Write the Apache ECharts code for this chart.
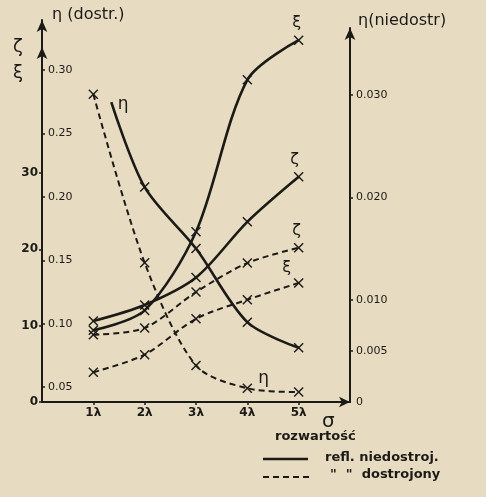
<!DOCTYPE html>
<html>
<head>
<meta charset="utf-8">
<script src="https://cdn.jsdelivr.net/npm/echarts@6/dist/echarts.min.js"></script>
<style>
html,body{margin:0;padding:0;background:#e7dcc1;}
#chart{width:486px;height:497px;}
</style>
</head>
<body>
<div id="chart"></div>
<script>
// ---- data ----
const xValues = [1, 2, 3, 4, 5];
const xTickLabels = ['1λ', '2λ', '3λ', '4λ', '5λ'];
const zetaSolid = [10.6, 12.7, 16.3, 23.6, 29.5];   // ζ, refl. niedostroj.
const xiSolid = [9.4, 12.0, 22.3, 42.2, 47.4];      // ξ, refl. niedostroj.
const zetaDashed = [8.8, 9.7, 14.4, 18.2, 20.2];    // ζ, dostrojony
const xiDashed = [3.9, 6.2, 10.9, 13.4, 15.6];      // ξ, dostrojony
const etaDashed = [0.281, 0.148, 0.067, 0.049, 0.046]; // η (dostr.)
const etaSolidX = [1.35, 2, 3, 4, 5];
const etaSolid = [0.0293, 0.0210, 0.0150, 0.0078, 0.0053]; // η (niedostr.)
const zxTicks = [0, 10, 20, 30];
const etaDostrTicks = [0.05, 0.10, 0.15, 0.20, 0.25, 0.30];
const etaNiedTicks = [0, 0.005, 0.010, 0.020, 0.030];

const INK = '#1c1a17';
const FONT = 'DejaVu Sans';
const CROSS = 'path://M0,1 L1,0 L5,4 L9,0 L10,1 L6,5 L10,9 L9,10 L5,6 L1,10 L0,9 L4,5 Z';

const chart = echarts.init(document.getElementById('chart'));

function pts(xs, ys) { return xs.map((x, i) => [x, ys[i]]); }
function lastLabel(data, text, offset) {
  const d = data.slice();
  const n = d.length - 1;
  d[n] = { value: d[n], label: { show: true, formatter: text, position: 'top', distance: 4, offset: offset || [0, 0], fontSize: 16, fontFamily: FONT, color: INK } };
  return d;
}

const solidStyle = { color: INK, width: 2.6 };
const dashStyle = { color: INK, width: 2, type: [6, 4] };
const base = { type: 'line', smooth: 0.3, symbol: CROSS, symbolSize: 10, itemStyle: { color: INK }, clip: false, z: 3 };

let etaSolidData = pts(etaSolidX, etaSolid);
etaSolidData[0] = { value: etaSolidData[0], symbol: 'circle', symbolSize: 1, itemStyle: { color: 'rgba(0,0,0,0)' },
  label: { show: true, formatter: 'η', position: 'right', distance: 6, offset: [0, 2], fontSize: 17, fontFamily: FONT, color: INK } };

let etaDashedData = pts(xValues, etaDashed);
etaDashedData[3] = { value: etaDashedData[3], label: { show: true, formatter: 'η', position: 'right', distance: 6, offset: [0, -10], fontSize: 17, fontFamily: FONT, color: INK } };

const axisLineStyle = { color: INK, width: 2 };

chart.setOption({
  backgroundColor: '#e7dcc1',
  animation: false,
  textStyle: { fontFamily: FONT, color: INK },
  grid: [
    { left: 42, right: 136, bottom: 95, top: 47 },
    { left: 42, right: 136, bottom: 95, top: 20 },
    { left: 42, right: 136, bottom: 95, top: 28 }
  ],
  xAxis: [
    { gridIndex: 0, type: 'value', min: 0, max: 6,
      axisLine: { show: true, onZero: false, lineStyle: axisLineStyle, symbol: ['none', 'arrow'], symbolSize: [8, 11] },
      axisTick: { show: true, customValues: xValues, length: 3, lineStyle: { color: INK, width: 1.5 } },
      axisLabel: { customValues: xValues, formatter: v => xTickLabels[xValues.indexOf(v)], fontSize: 12, fontWeight: 'bold', color: INK, margin: 5 },
      splitLine: { show: false } },
    { gridIndex: 1, type: 'value', min: 0, max: 6, show: false },
    { gridIndex: 2, type: 'value', min: 0, max: 6, show: false }
  ],
  yAxis: [
    { gridIndex: 0, type: 'value', min: 0, max: 46.5, position: 'left',
      axisLine: { show: true, onZero: false, lineStyle: axisLineStyle, symbol: ['none', 'arrow'], symbolSize: [8, 12] },
      axisTick: { show: true, customValues: zxTicks, length: 3, lineStyle: { color: INK, width: 1.5 } },
      axisLabel: { customValues: zxTicks, fontSize: 12, fontWeight: 'bold', color: INK, margin: 4 },
      splitLine: { show: false } },
    { gridIndex: 1, type: 'value', min: 0.0382, max: 0.3395, position: 'left',
      axisLine: { show: true, onZero: false, lineStyle: axisLineStyle, symbol: ['none', 'arrow'], symbolSize: [8, 12] },
      axisTick: { show: true, inside: true, customValues: etaDostrTicks, length: 3, lineStyle: { color: INK, width: 1.5 } },
      axisLabel: { inside: true, customValues: etaDostrTicks, formatter: v => v.toFixed(2), fontSize: 11, color: INK, margin: 6 },
      splitLine: { show: false },
      name: 'η (dostr.)', nameLocation: 'end', nameGap: 5,
      nameTextStyle: { align: 'left', verticalAlign: 'bottom', padding: [0, 0, -8, 10], fontSize: 16, color: INK, fontFamily: FONT } },
    { gridIndex: 2, type: 'value', min: 0, max: 0.03655, position: 'right',
      axisLine: { show: true, onZero: false, lineStyle: axisLineStyle, symbol: ['none', 'arrow'], symbolSize: [8, 12] },
      axisTick: { show: true, inside: false, customValues: etaNiedTicks.slice(1), length: 3, lineStyle: { color: INK, width: 1.5 } },
      axisLabel: { customValues: etaNiedTicks, formatter: v => (v === 0 ? '0' : v.toFixed(3)), fontSize: 11, color: INK, margin: 6 },
      splitLine: { show: false },
      name: 'η(niedostr)', nameLocation: 'end', nameGap: 5,
      nameTextStyle: { align: 'left', verticalAlign: 'bottom', padding: [0, 0, -6, 8], fontSize: 16, color: INK, fontFamily: FONT } }
  ],
  series: [
    Object.assign({}, base, { name: 'ζ niedostroj.', xAxisIndex: 0, yAxisIndex: 0, lineStyle: solidStyle, data: lastLabel(pts(xValues, zetaSolid), 'ζ', [-4, 0]) }),
    Object.assign({}, base, { name: 'ξ niedostroj.', xAxisIndex: 0, yAxisIndex: 0, lineStyle: solidStyle, data: lastLabel(pts(xValues, xiSolid), 'ξ', [-2, 0]) }),
    Object.assign({}, base, { name: 'ζ dostrojony', xAxisIndex: 0, yAxisIndex: 0, lineStyle: dashStyle, data: lastLabel(pts(xValues, zetaDashed), 'ζ', [-2, 0]) }),
    Object.assign({}, base, { name: 'ξ dostrojony', xAxisIndex: 0, yAxisIndex: 0, lineStyle: dashStyle, data: lastLabel(pts(xValues, xiDashed), 'ξ', [-12, 2]) }),
    Object.assign({}, base, { name: 'η dostrojony', xAxisIndex: 1, yAxisIndex: 1, lineStyle: dashStyle, data: etaDashedData }),
    Object.assign({}, base, { name: 'η niedostroj.', xAxisIndex: 2, yAxisIndex: 2, lineStyle: solidStyle, data: etaSolidData })
  ],
  graphic: [
    { type: 'text', left: 13, top: 38, style: { text: 'ζ', font: '18px "DejaVu Sans"', fill: INK } },
    { type: 'text', left: 13, top: 64, style: { text: 'ξ', font: '18px "DejaVu Sans"', fill: INK } },
    { type: 'text', left: 322, top: 412, style: { text: 'σ', font: '20px "DejaVu Sans"', fill: INK } },
    { type: 'text', left: 275, top: 430, style: { text: 'rozwartość', font: 'bold 13px "DejaVu Sans"', fill: INK } },
    { type: 'line', shape: { x1: 263, y1: 459, x2: 308, y2: 459 }, style: { stroke: INK, lineWidth: 2.4 } },
    { type: 'text', left: 325, top: 451, style: { text: 'refl. niedostroj.', font: 'bold 13px "DejaVu Sans"', fill: INK } },
    { type: 'line', shape: { x1: 263, y1: 477, x2: 310, y2: 477 }, style: { stroke: INK, lineWidth: 2, lineDash: [6, 4] } },
    { type: 'text', left: 330, top: 468, style: { text: '"  "  dostrojony', font: 'bold 13px "DejaVu Sans"', fill: INK } }
  ]
});
</script>
</body>
</html>
